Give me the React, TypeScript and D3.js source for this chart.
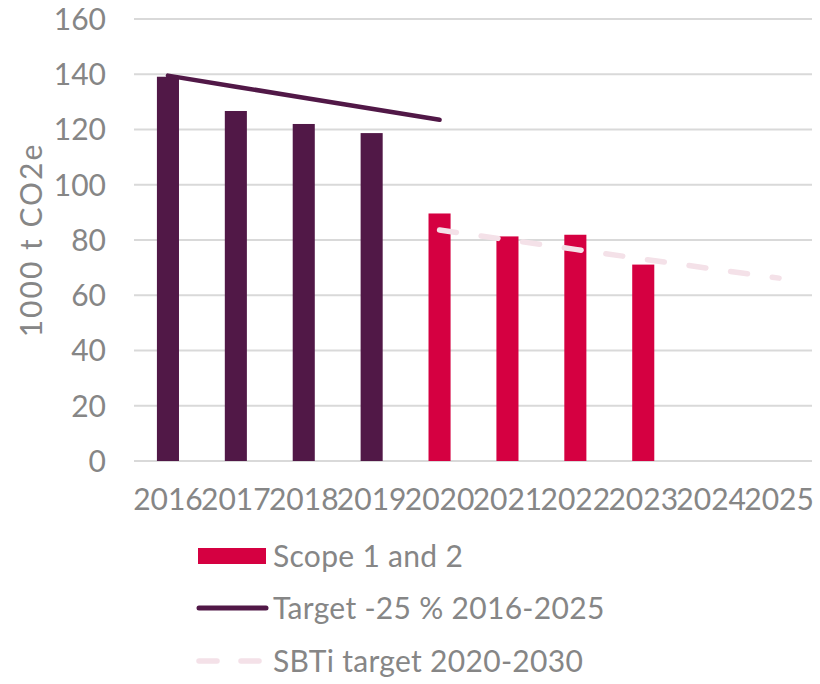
import * as d3 from "d3";
import { useEffect, useRef } from "react";

// values
const years = ["2016", "2017", "2018", "2019", "2020", "2021", "2022", "2023", "2024", "2025"];
const emissions = [139.1, 126.7, 122.0, 118.7, 89.6, 81.3, 81.9, 71.1];
const targetYears = ["2016", "2017", "2018", "2019", "2020"];
const targetValues = [139.5, 135.5, 131.5, 127.5, 123.5];
const sbtiYears = ["2020", "2021", "2022", "2023", "2024", "2025"];
const sbtiValues = [83.6, 80.1, 76.6, 73.1, 69.6, 66.2];
const yTicks = [0, 20, 40, 60, 80, 100, 120, 140, 160];

const W = 820;
const H = 684;
const PURPLE = "#511847";
const RED = "#d50041";
const PINK = "#f4e1e8";
const GREY = "#868686";
const FONT = "Lato, 'Open Sans', sans-serif";

const App = () => {
	const ref = useRef<SVGSVGElement>(null);

	useEffect(() => {
		const svg = d3.select(ref.current);
		svg.selectAll("*").remove();

		const margin = { top: 19, left: 134, right: 7, bottom: 223 };

		const x = d3.scaleBand()
			.domain(years)
			.range([margin.left, W - margin.right])
			.paddingInner(0.675)
			.paddingOuter(0.3375);

		const y = d3.scaleLinear()
			.domain([0, 160])
			.range([H - margin.bottom, margin.top]);

		const cx = (yr: string) => (x(yr) as number) + x.bandwidth() / 2;

		// gridlines
		svg.append("g")
			.selectAll("line")
			.data(yTicks)
			.enter()
			.append("line")
			.attr("x1", margin.left)
			.attr("x2", W - margin.right - 1)
			.attr("y1", d => y(d))
			.attr("y2", d => y(d))
			.attr("stroke", "#d9d9d9")
			.attr("stroke-width", 2);

		// y tick labels
		svg.append("g")
			.selectAll("text")
			.data(yTicks)
			.enter()
			.append("text")
			.attr("x", 106)
			.attr("y", d => y(d))
			.attr("dy", "0.36em")
			.attr("text-anchor", "end")
			.attr("font-family", FONT)
			.attr("font-size", 30)
			.attr("fill", GREY)
			.text(d => d);

		// y axis title
		svg.append("text")
			.attr("transform", `translate(42, 240) rotate(-90)`)
			.attr("text-anchor", "middle")
			.attr("font-family", FONT)
			.attr("font-size", 30)
			.attr("letter-spacing", 2)
			.attr("fill", GREY)
			.text("1000 t CO2e");

		// x labels
		svg.append("g")
			.selectAll("text")
			.data(years)
			.enter()
			.append("text")
			.attr("x", d => cx(d))
			.attr("y", 510)
			.attr("text-anchor", "middle")
			.attr("font-family", FONT)
			.attr("font-size", 30)
			.attr("fill", GREY)
			.text(d => d);

		// bars
		svg.append("g")
			.selectAll("rect")
			.data(emissions)
			.enter()
			.append("rect")
			.attr("x", (d, i) => x(years[i]) as number)
			.attr("y", d => y(d))
			.attr("width", x.bandwidth())
			.attr("height", d => y(0) - y(d))
			.attr("fill", (d, i) => (+years[i] < 2020 ? PURPLE : RED));

		// target line
		const line = d3.line<[string, number]>()
			.x(d => cx(d[0]))
			.y(d => y(d[1]));

		svg.append("path")
			.datum(targetYears.map((yr, i) => [yr, targetValues[i]] as [string, number]))
			.attr("d", line)
			.attr("fill", "none")
			.attr("stroke", PURPLE)
			.attr("stroke-width", 4.5)
			.attr("stroke-linecap", "round");

		// SBTi dashed line
		svg.append("path")
			.datum(sbtiYears.map((yr, i) => [yr, sbtiValues[i]] as [string, number]))
			.attr("d", line)
			.attr("fill", "none")
			.attr("stroke", PINK)
			.attr("stroke-width", 5.5)
			.attr("stroke-linecap", "round")
			.attr("stroke-dasharray", "17 25");

		// legend
		const lg = svg.append("g")
			.attr("font-family", FONT)
			.attr("font-size", 30)
			.attr("letter-spacing", 0.3)
			.attr("fill", GREY);
		lg.append("rect")
			.attr("x", 198).attr("y", 548)
			.attr("width", 68).attr("height", 16)
			.attr("fill", RED);
		lg.append("text").attr("x", 273).attr("y", 567).text("Scope 1 and 2");

		lg.append("line")
			.attr("x1", 199).attr("x2", 266)
			.attr("y1", 608).attr("y2", 608)
			.attr("stroke", PURPLE).attr("stroke-width", 5).attr("stroke-linecap", "round");
		lg.append("text").attr("x", 273).attr("y", 619).text("Target -25 % 2016-2025");

		lg.append("line")
			.attr("x1", 199).attr("x2", 266)
			.attr("y1", 661).attr("y2", 661)
			.attr("stroke", PINK).attr("stroke-width", 5.5).attr("stroke-linecap", "round")
			.attr("stroke-dasharray", "18 24");
		lg.append("text").attr("x", 273).attr("y", 672).text("SBTi target 2020-2030");
	}, []);

	return (
		<svg ref={ref} width={W} height={H} style={{ display: "block", position: "absolute", left: 0, top: 0 }} />
	);
};

export default App;
